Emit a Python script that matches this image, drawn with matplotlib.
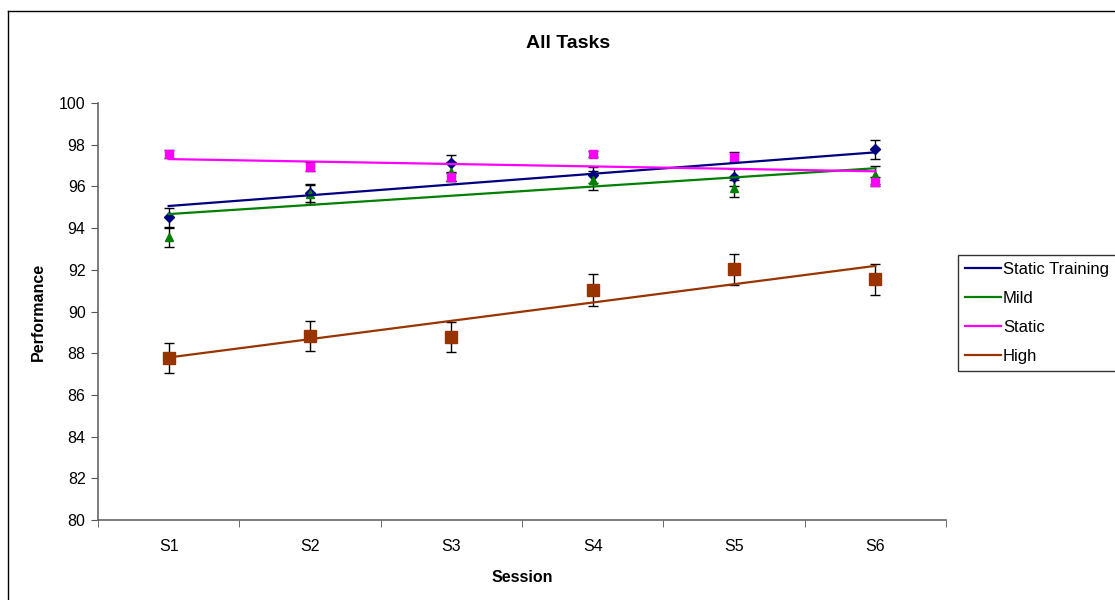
import numpy as np
import matplotlib
matplotlib.use('Agg')
import matplotlib.pyplot as plt
from matplotlib.lines import Line2D

plt.rcParams['font.family'] = ['Liberation Sans', 'DejaVu Sans']

sessions = ['S1', 'S2', 'S3', 'S4', 'S5', 'S6']
series_names = ['Static Training', 'Mild', 'Static', 'High']

static_training = [94.52, 95.68, 97.11, 96.55, 96.44, 97.78]
mild = [93.56, 95.62, 96.70, 96.30, 95.90, 96.55]
static = [97.54, 96.95, 96.44, 97.54, 97.40, 96.23]
high = [87.76, 88.82, 88.78, 91.03, 92.02, 91.54]

static_training_err = [0.45, 0.45, 0.40, 0.40, 0.40, 0.45]
mild_err = [0.45, 0.45, 0.45, 0.45, 0.40, 0.45]
static_err = [0.20, 0.20, 0.20, 0.15, 0.25, 0.20]
high_err = [0.72, 0.72, 0.72, 0.75, 0.73, 0.75]

colors = ['#000080', '#008000', '#FF00FF', '#993300']
markers = ['D', '^', 's', 's']
msizes = [5, 6, 5.5, 9]

fig = plt.figure(figsize=(11.15, 6), dpi=100)
ax = fig.add_axes([98 / 1115, 80 / 600, 848 / 1115, 417 / 600])

x = np.arange(1, len(sessions) + 1)
data = [static_training, mild, static, high]
errs = [static_training_err, mild_err, static_err, high_err]

handles = []
for name, y, e, c, m, ms in zip(series_names, data, errs, colors, markers, msizes):
    ax.errorbar(x, y, yerr=e, fmt='none', ecolor='black', elinewidth=1,
                capsize=3.5, capthick=1, zorder=2)
    ax.plot(x, y, linestyle='none', marker=m, color=c, markersize=ms,
            markeredgecolor=c, zorder=3)
    # linear trend line, as in the spreadsheet chart
    k, b = np.polyfit(x, y, 1)
    ax.plot(x, k * x + b, color=c, linewidth=1.6, zorder=4)
    handles.append(Line2D([], [], color=c, linewidth=1.6, label=name))

ax.set_xlim(0.5, 6.5)
ax.set_ylim(80, 100)
ax.set_yticks(np.arange(80, 101, 2))
ax.set_xticks(x)
ax.set_xticklabels(sessions)
ax.set_xticks(np.arange(0.5, 6.6, 1), minor=True)
ax.tick_params(axis='x', which='major', length=0, pad=14, labelsize=11.5)
ax.tick_params(axis='x', which='minor', length=5, direction='out', color='#555555')
ax.tick_params(axis='y', length=5, direction='out', labelsize=11.5, color='#555555', pad=4)
for s in ['top', 'right']:
    ax.spines[s].set_visible(False)
for s in ['left', 'bottom']:
    ax.spines[s].set_color('#666666')
    ax.spines[s].set_linewidth(1.2)

fig.text(568 / 1115, 1 - 44 / 600, 'All Tasks', ha='center', va='center',
         fontsize=14, fontweight='bold')
fig.text(38 / 1115, 1 - 312 / 600, 'Performance', ha='center', va='center',
         rotation=90, fontsize=11.5, fontweight='bold')
fig.text(522 / 1115, 1 - 577 / 600, 'Session', ha='center', va='center',
         fontsize=11.5, fontweight='bold')

# outer chart frame
fig.add_artist(Line2D([8 / 1115, 8 / 1115], [0, 1 - 11 / 600], color='black',
                      linewidth=1, transform=fig.transFigure))
fig.add_artist(Line2D([8 / 1115, 1], [1 - 11 / 600, 1 - 11 / 600], color='black',
                      linewidth=1, transform=fig.transFigure))

leg = fig.legend(handles=handles, loc='upper left',
                 bbox_to_anchor=(958 / 1115, 1 - 255 / 600), fontsize=12,
                 frameon=True, fancybox=False, handlelength=2.15,
                 handletextpad=0.15, borderpad=0.4, labelspacing=0.85,
                 borderaxespad=0)
leg.get_frame().set_edgecolor('black')
leg.get_frame().set_linewidth(1)

fig.savefig('out.png', dpi=100)
